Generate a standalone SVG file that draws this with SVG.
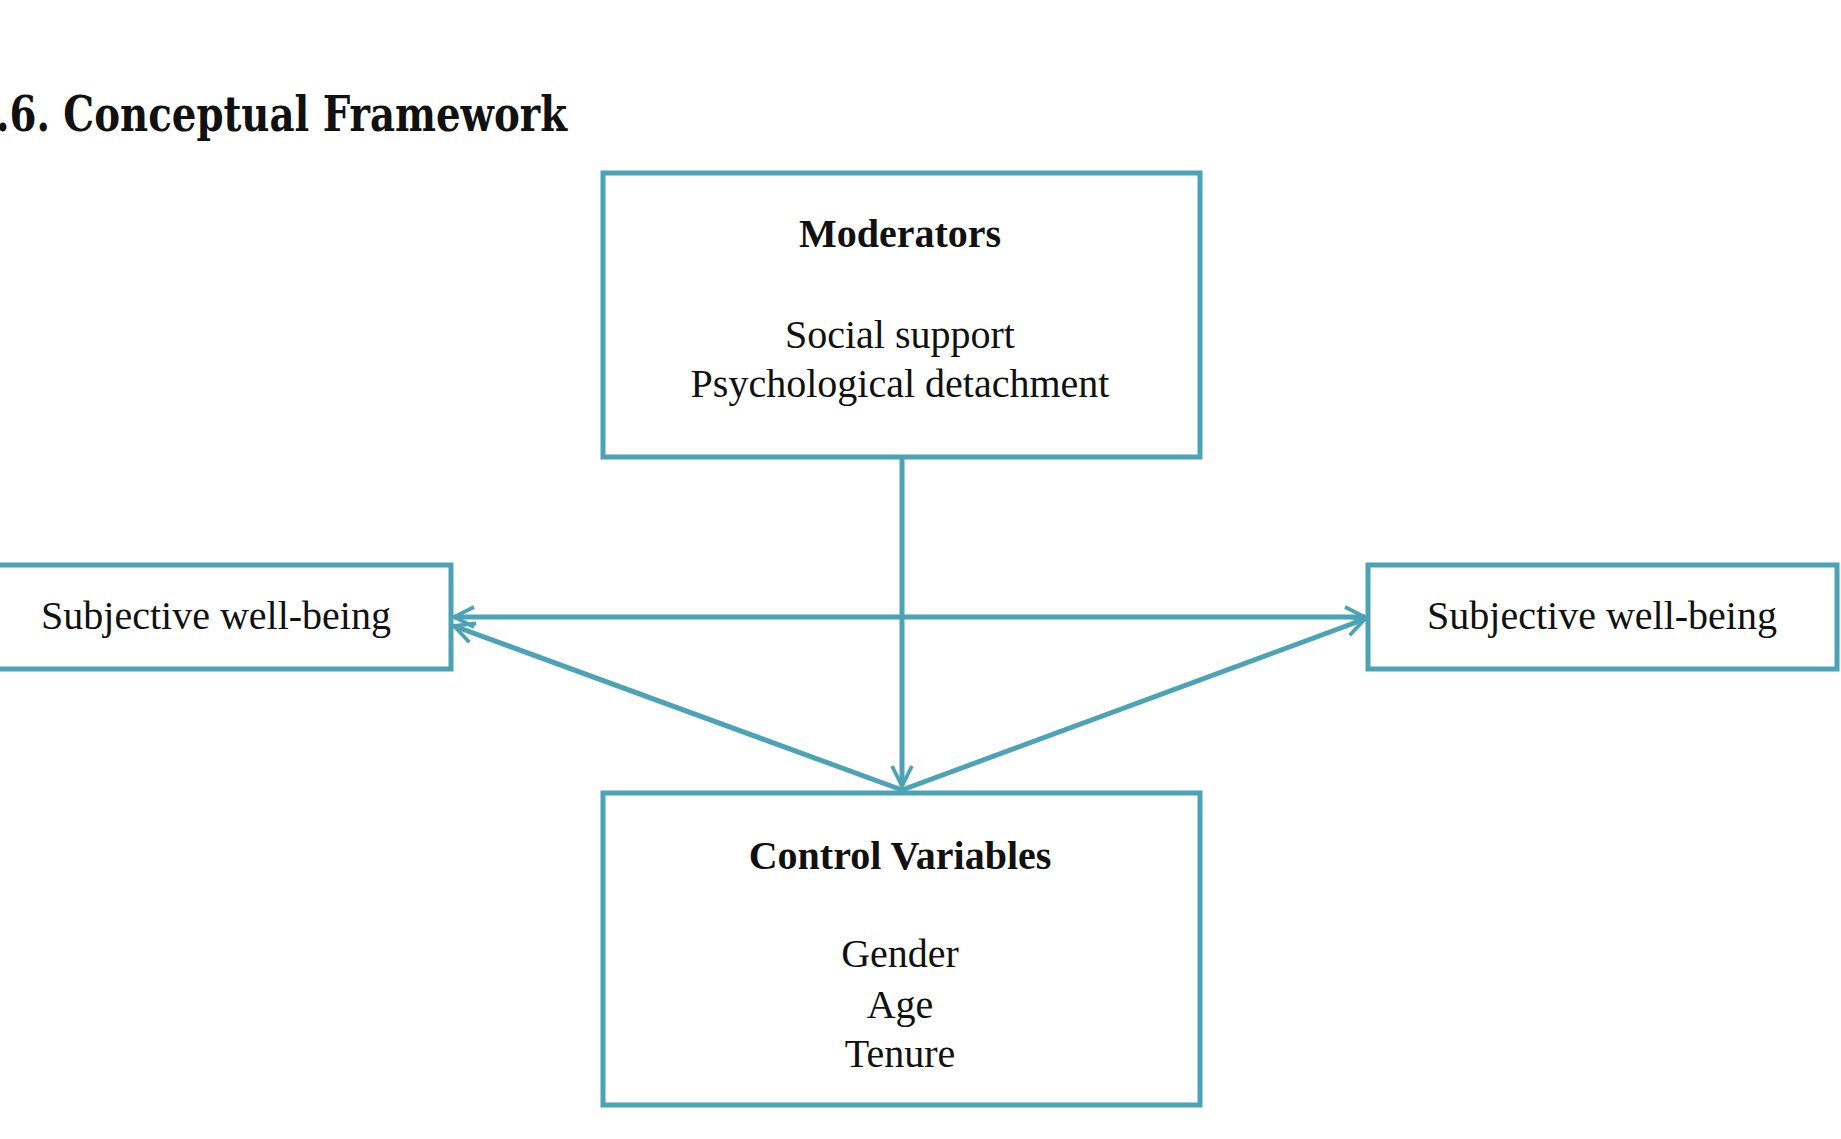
<svg xmlns="http://www.w3.org/2000/svg" width="1841" height="1139" viewBox="0 0 1841 1139">
<style>
.box{fill:#fff;stroke:#4ba3b5;stroke-width:5}
.c{stroke:#4ba3b5;stroke-width:5;fill:none}
.t{font-family:"Liberation Serif",serif;font-size:40px;fill:#111;text-anchor:middle}
.b{font-weight:bold}
</style>
<defs>
<marker id="a" viewBox="0 0 20 20" refX="18" refY="10" markerWidth="5" markerHeight="5" orient="auto-start-reverse" markerUnits="strokeWidth">
<path d="M2,2 L18,10 L2,18" fill="none" stroke="#4ba3b5" stroke-width="3"/>
</marker>
</defs>
<rect width="1841" height="1139" fill="#fff"/>
<text x="-4" y="131" font-family="'DejaVu Serif Condensed','Liberation Serif',serif" font-weight="bold" font-size="48" textLength="571" lengthAdjust="spacingAndGlyphs" fill="#111">.6. Conceptual Framework</text>
<g id="connectors">
<line class="c" x1="902" y1="457" x2="902" y2="786" marker-end="url(#a)"/>
<line class="c" x1="454" y1="617" x2="1365" y2="617" marker-start="url(#a)" marker-end="url(#a)"/>
<line class="c" x1="902" y1="790" x2="454" y2="626" marker-end="url(#a)"/>
<line class="c" x1="902" y1="790" x2="1365" y2="619" marker-end="url(#a)"/>
</g>
<g id="moderators">
<rect class="box" x="603" y="173" width="597" height="284"/>
<text class="t b" x="900" y="247">Moderators</text>
<text class="t" x="900" y="348">Social support</text>
<text class="t" x="900" y="397">Psychological detachment</text>
</g>
<g id="swb-left">
<rect class="box" x="-3" y="565" width="454" height="104"/>
<text class="t" x="216" y="629">Subjective well-being</text>
</g>
<g id="swb-right">
<rect class="box" x="1368" y="565" width="469" height="104"/>
<text class="t" x="1602" y="629">Subjective well-being</text>
</g>
<g id="control">
<rect class="box" x="603" y="793" width="597" height="312"/>
<text class="t b" x="900" y="869">Control Variables</text>
<text class="t" x="900" y="967">Gender</text>
<text class="t" x="900" y="1018">Age</text>
<text class="t" x="900" y="1067">Tenure</text>
</g>
</svg>
